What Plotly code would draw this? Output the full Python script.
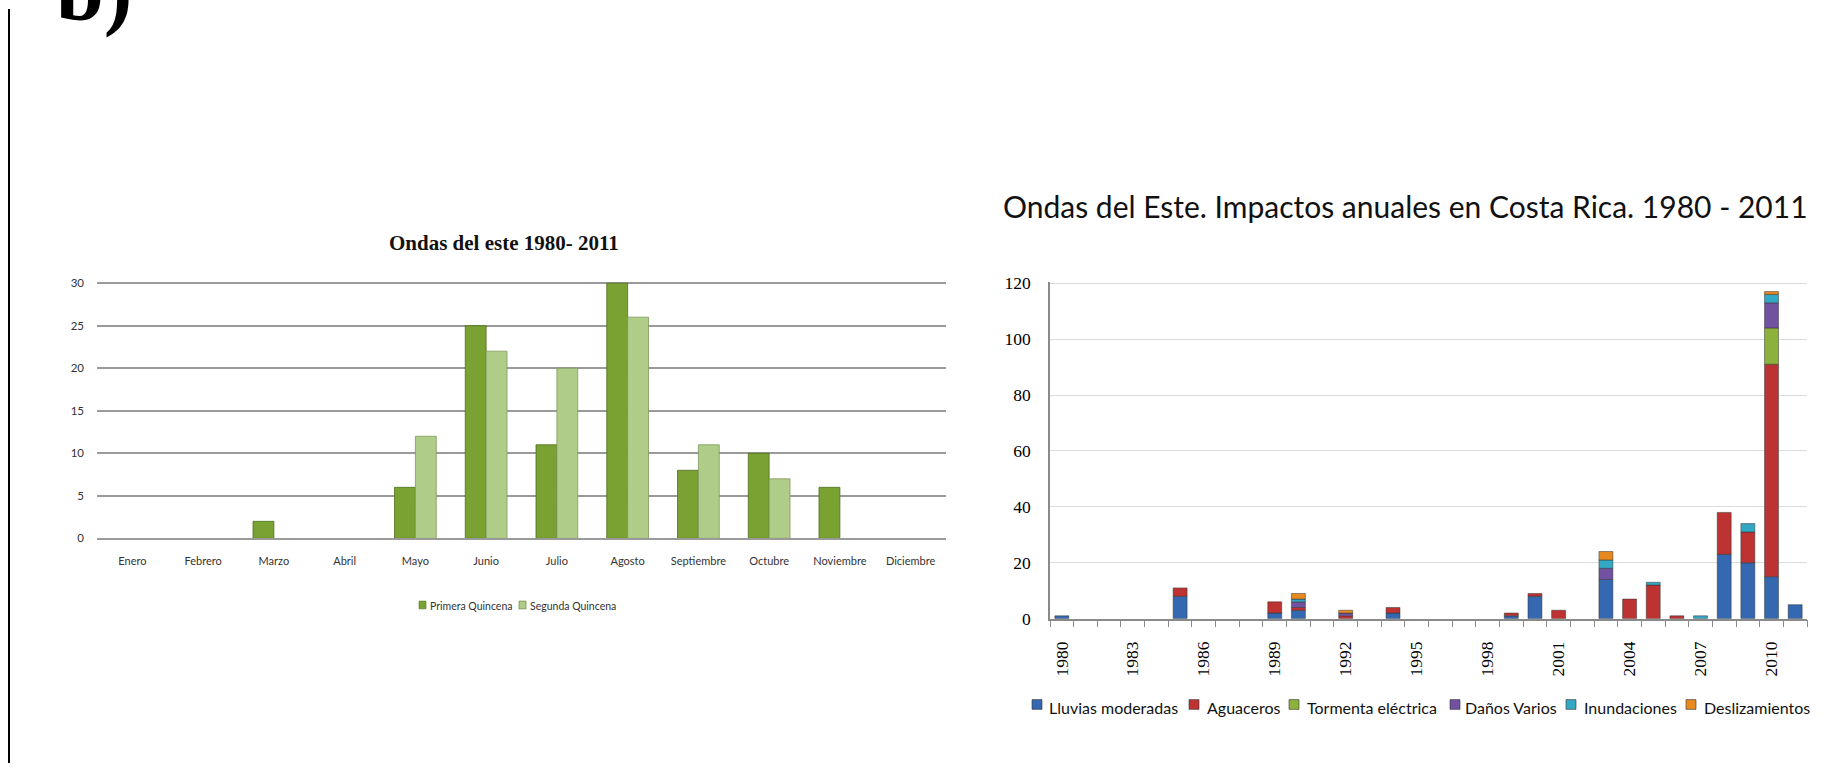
import plotly.graph_objects as go

W, H = 1844, 773

# ---- Ondas del este por quincena (1980-2011) ----
meses = ["Enero", "Febrero", "Marzo", "Abril", "Mayo", "Junio", "Julio",
         "Agosto", "Septiembre", "Octubre", "Noviembre", "Diciembre"]
primera_quincena = [0, 0, 2, 0, 6, 25, 11, 30, 8, 10, 6, 0]
segunda_quincena = [0, 0, 0, 0, 12, 22, 20, 26, 11, 7, 0, 0]
y_ticks_mes = [0, 5, 10, 15, 20, 25, 30]

# ---- Impactos anuales en Costa Rica (1980-2011) ----
anios = [1980, 1981, 1982, 1983, 1984, 1985, 1986, 1987, 1988, 1989, 1990,
         1991, 1992, 1993, 1994, 1995, 1996, 1997, 1998, 1999, 2000, 2001,
         2002, 2003, 2004, 2005, 2006, 2007, 2008, 2009, 2010, 2011]
lluvias_moderadas = [1, 0, 0, 0, 0, 8, 0, 0, 0, 2, 3, 0, 0, 0, 2, 0, 0, 0, 0, 1, 8, 0,
                     0, 14, 0, 0, 0, 0, 23, 20, 15, 5]
aguaceros = [0, 0, 0, 0, 0, 3, 0, 0, 0, 4, 1, 0, 1, 0, 2, 0, 0, 0, 0, 1, 1, 3,
             0, 0, 7, 12, 1, 0, 15, 11, 76, 0]
tormenta_electrica = [0, 0, 0, 0, 0, 0, 0, 0, 0, 0, 0, 0, 0, 0, 0, 0, 0, 0, 0, 0, 0, 0,
                      0, 0, 0, 0, 0, 0, 0, 0, 13, 0]
danos_varios = [0, 0, 0, 0, 0, 0, 0, 0, 0, 0, 2, 0, 1, 0, 0, 0, 0, 0, 0, 0, 0, 0,
                0, 4, 0, 0, 0, 0, 0, 0, 9, 0]
inundaciones = [0, 0, 0, 0, 0, 0, 0, 0, 0, 0, 1, 0, 0, 0, 0, 0, 0, 0, 0, 0, 0, 0,
                0, 3, 0, 1, 0, 1, 0, 3, 3, 0]
deslizamientos = [0, 0, 0, 0, 0, 0, 0, 0, 0, 0, 2, 0, 1, 0, 0, 0, 0, 0, 0, 0, 0, 0,
                  0, 3, 0, 0, 0, 0, 0, 0, 1, 0]
anios_etiqueta = [1980, 1983, 1986, 1989, 1992, 1995, 1998, 2001, 2004, 2007, 2010]
y_ticks_anual = [0, 20, 40, 60, 80, 100, 120]

series_impacto = [
    ("Lluvias moderadas", lluvias_moderadas, "#3468b0"),
    ("Aguaceros", aguaceros, "#bd3331"),
    ("Tormenta eléctrica", tormenta_electrica, "#8cb23c"),
    ("Daños Varios", danos_varios, "#7152a0"),
    ("Inundaciones", inundaciones, "#33a8c4"),
    ("Deslizamientos", deslizamientos, "#e8891f"),
]


def px(x):
    return x / W


def py(y):
    return 1 - y / H


def sin_ceros(valores):
    # empty slots instead of zero-height bars (avoids stray outlines)
    return [v if v else None for v in valores]


fig = go.Figure()

# left chart: two bars per month
fig.add_trace(go.Bar(x=meses, y=sin_ceros(primera_quincena), name="Primera Quincena",
                     marker=dict(color="#79a232", line=dict(color="#4f6e1c", width=0.8)),
                     offsetgroup="p", xaxis="x", yaxis="y", showlegend=False))
fig.add_trace(go.Bar(x=meses, y=sin_ceros(segunda_quincena), name="Segunda Quincena",
                     marker=dict(color="#afcc88", line=dict(color="#7f9a5c", width=0.8)),
                     offsetgroup="s", xaxis="x", yaxis="y", showlegend=False))

# right chart: stacked impacts per year
base = [0] * len(anios)
for nombre, valores, color in series_impacto:
    fig.add_trace(go.Bar(x=anios, y=sin_ceros(valores), base=list(base), name=nombre,
                         marker=dict(color=color, line=dict(color="#333333", width=0.5)),
                         offsetgroup="imp", xaxis="x2", yaxis="y2", showlegend=False))
    base = [b + v for b, v in zip(base, valores)]

sans = "Lato, 'Open Sans', sans-serif"
serif = "'Liberation Serif', 'DejaVu Serif', serif"

fig.update_layout(
    width=W, height=H,
    margin=dict(l=0, r=0, t=0, b=0),
    paper_bgcolor="white", plot_bgcolor="white",
    barmode="group", bargap=0.41, bargroupgap=0,
    showlegend=False,
    xaxis=dict(domain=[px(97), px(946)], type="category", showgrid=False,
               showline=True, linecolor="#9a9a9a", linewidth=1.5,
               ticks="", zeroline=False, tickangle=0,
               tickfont=dict(family=sans, size=11, color="#333333"),
               ticklabelstandoff=12, fixedrange=True),
    yaxis=dict(domain=[py(542.7), py(280)], range=[0, 30.12], tickvals=y_ticks_mes,
               showgrid=True, gridcolor="#9a9a9a", gridwidth=1.5, showline=False,
               zeroline=False, ticks="",
               tickfont=dict(family=sans, size=11.5, color="#333333"),
               ticklabelstandoff=12, fixedrange=True),
    xaxis2=dict(domain=[px(1050), px(1807)], anchor="y2", range=[1979.5, 2011.5],
                tickmode="array", tickvals=anios_etiqueta, ticks="",
                tickangle=-90, showgrid=False, zeroline=False,
                showline=True, linecolor="#8a8a8a", linewidth=1.5,
                minor=dict(tick0=1979.5, dtick=1, ticks="outside", ticklen=7,
                           tickcolor="#8a8a8a", tickwidth=1.2, showgrid=False),
                tickfont=dict(family=serif, size=17.5, color="black"),
                ticklabelstandoff=14, fixedrange=True),
    yaxis2=dict(domain=[py(625), py(280)], anchor="x2", range=[0, 120.4],
                tickvals=y_ticks_anual, showgrid=True, gridcolor="#dcdcdc",
                gridwidth=1.2, showline=True, linecolor="#8a8a8a", linewidth=1.5,
                zeroline=False, ticks="",
                tickfont=dict(family=serif, size=17.5, color="black"),
                ticklabelstandoff=14, fixedrange=True),
)

P = dict(xref="paper", yref="paper", showarrow=False)
annotations = [
    dict(text="<b>b)</b>", x=px(54), y=py(32), xanchor="left", yanchor="bottom",
         font=dict(family=serif, size=86, color="black"), **P),
    dict(text="<b>Ondas del este 1980- 2011</b>", x=px(504), y=py(240), xanchor="center",
         yanchor="middle", font=dict(family=serif, size=21, color="#111111"), **P),
    dict(text="Ondas del Este. Impactos anuales en Costa Rica. 1980 - 2011",
         x=px(1405), y=py(202), xanchor="center", yanchor="middle",
         font=dict(family=sans, size=30, color="#111111"), **P),
]
shapes = [
    dict(type="line", xref="paper", yref="paper", x0=px(9), x1=px(9), y0=0, y1=1,
         line=dict(color="black", width=2)),
]

# legend for the monthly chart
leg_mes = [("Primera Quincena", "#79a232", 419, 428),
           ("Segunda Quincena", "#afcc88", 519, 528)]
for texto, color, xs, xt in leg_mes:
    shapes.append(dict(type="rect", xref="paper", yref="paper",
                       x0=px(xs), x1=px(xs + 7), y0=py(615), y1=py(607),
                       fillcolor=color, line=dict(color="#5a7a25", width=0.6)))
    annotations.append(dict(text=texto, x=px(xt), y=py(612), xanchor="left",
                            yanchor="middle",
                            font=dict(family=sans, size=10.5, color="#333333"), **P))

# legend for the annual chart
leg_x = [(1032, 1047), (1189, 1205), (1289, 1305), (1450, 1463), (1566, 1582), (1686, 1702)]
for (nombre, _, color), (xs, xt) in zip(series_impacto, leg_x):
    shapes.append(dict(type="rect", xref="paper", yref="paper",
                       x0=px(xs), x1=px(xs + 10), y0=py(718), y1=py(708),
                       fillcolor=color, line=dict(color="#333333", width=0.6)))
    annotations.append(dict(text=nombre, x=px(xt), y=py(716), xanchor="left",
                            yanchor="middle",
                            font=dict(family=sans, size=16, color="#111111"), **P))

fig.update_layout(annotations=annotations, shapes=shapes)

fig.write_html("out.html", config={"displayModeBar": False})
